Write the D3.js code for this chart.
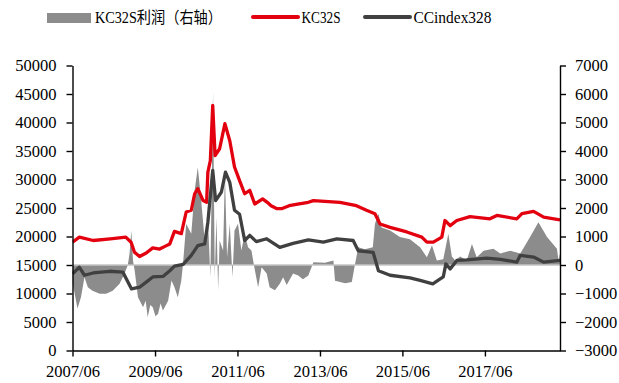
<!DOCTYPE html>
<html>
<head>
<meta charset="utf-8">
<script src="https://cdn.jsdelivr.net/npm/d3@7"></script>
<style>
  html, body { margin: 0; padding: 0; background: #fff; }
  svg { display: block; }
</style>
</head>
<body>
<svg id="chart" width="619" height="383"></svg>
<script>
// ---------- data ----------
const kcDates = ["2007-06-01","2007-08-01","2007-12-01","2008-05-01","2008-09-15","2008-11-01","2008-12-01","2009-01-15","2009-03-15","2009-05-12","2009-07-12","2009-09-10","2009-10-10","2009-11-20","2010-01-20","2010-03-04","2010-04-18","2010-05-18","2010-06-15","2010-08-01","2010-09-01","2010-09-12","2010-10-04","2010-10-25","2010-11-15","2010-12-25","2011-02-10","2011-03-25","2011-05-06","2011-06-20","2011-08-04","2011-09-18","2011-11-01","2012-01-10","2012-02-20","2012-03-25","2012-05-12","2012-07-01","2012-09-01","2012-11-15","2013-02-18","2013-04-04","2013-11-25","2014-04-20","2014-07-18","2014-10-01","2014-11-15","2015-02-12","2015-07-10","2015-11-20","2016-01-04","2016-03-01","2016-05-15","2016-06-12","2016-07-28","2016-09-25","2017-01-20","2017-07-15","2017-09-15","2018-03-10","2018-04-25","2018-08-06","2018-11-03","2019-03-28"];
const kcValues = [19000,19900,19300,19600,19900,19000,17250,16500,17100,18000,17800,18400,18700,20900,20500,24300,24600,27500,28400,26300,26000,31300,33300,43000,34200,35400,39800,36800,32200,29800,27500,28100,25700,26600,26000,25400,24900,24900,25400,25700,26000,26300,26000,25400,24600,24000,22200,21600,20800,19900,19000,19000,19900,22800,21900,22800,23500,23100,23700,23100,24000,24400,23400,22900];

const ccDates = ["2007-06-01","2007-08-01","2007-09-15","2007-12-01","2008-04-25","2008-08-20","2008-11-05","2009-01-15","2009-03-15","2009-05-12","2009-08-10","2009-10-10","2009-11-20","2010-02-05","2010-04-18","2010-06-15","2010-08-15","2010-09-12","2010-10-25","2010-11-20","2011-01-10","2011-02-15","2011-03-25","2011-05-06","2011-06-20","2011-08-04","2011-09-18","2011-11-15","2012-02-15","2012-06-10","2012-10-06","2013-02-18","2013-07-01","2013-10-28","2014-03-22","2014-05-06","2014-09-15","2014-11-01","2015-02-12","2015-08-07","2015-11-05","2016-02-25","2016-05-01","2016-05-28","2016-06-20","2016-07-28","2016-09-25","2016-12-22","2017-06-18","2017-10-15","2018-03-10","2018-04-10","2018-08-06","2018-11-03","2019-03-28"];
const ccValues = [13450,14600,13200,13600,13900,13750,10800,11100,12000,12900,13000,14000,14800,15100,16700,18400,18700,22500,31600,26300,27800,31300,29500,24600,23900,19300,20200,19100,19600,18100,18800,19400,19000,19600,19300,17500,17200,14000,13200,12750,12300,11700,12550,12900,15200,14300,15800,15900,16200,16000,15500,16700,16400,15500,15800];

const profitDates = ["2007-06-01","2007-06-20","2007-07-15","2007-08-15","2007-09-15","2007-10-15","2007-11-25","2008-01-28","2008-03-25","2008-05-22","2008-07-22","2008-09-05","2008-10-03","2008-10-18","2008-11-03","2008-11-18","2008-12-03","2009-01-01","2009-02-15","2009-03-10","2009-03-28","2009-04-20","2009-05-12","2009-06-05","2009-06-28","2009-07-20","2009-08-10","2009-09-25","2009-10-25","2009-11-20","2009-12-20","2010-01-20","2010-02-03","2010-03-04","2010-04-18","2010-05-18","2010-06-15","2010-07-15","2010-08-15","2010-09-12","2010-10-04","2010-10-28","2010-11-12","2010-11-27","2010-12-12","2010-12-25","2011-01-25","2011-02-10","2011-03-01","2011-03-25","2011-04-18","2011-05-06","2011-06-06","2011-07-06","2011-08-04","2011-09-03","2011-10-03","2011-10-25","2011-12-01","2012-01-01","2012-02-15","2012-03-12","2012-04-28","2012-06-10","2012-07-10","2012-08-10","2012-10-06","2012-11-20","2013-01-01","2013-02-18","2013-04-04","2013-07-15","2013-09-28","2013-10-12","2014-01-10","2014-03-10","2014-04-06","2014-05-06","2014-07-03","2014-09-12","2014-10-01","2014-11-01","2014-11-28","2015-02-12","2015-05-10","2015-08-07","2015-11-05","2016-01-04","2016-02-18","2016-04-01","2016-05-28","2016-07-12","2016-08-12","2016-09-10","2016-10-25","2016-12-22","2017-02-06","2017-03-20","2017-05-20","2017-08-15","2017-10-15","2018-01-12","2018-04-10","2018-07-06","2018-09-18","2018-12-03","2019-03-01","2019-03-15","2019-03-28"];
const profitValues = [-600,-1000,-1530,-1130,-430,-780,-900,-1010,-1010,-900,-660,-290,0,390,1210,150,-200,-1130,-1480,-1250,-1830,-1400,-1480,-1800,-1710,-1350,-1600,-1250,-545,-780,-1130,-545,0,1450,1100,2610,3430,2260,860,1680,-430,6100,-430,1680,-890,860,510,3200,270,1450,-430,1210,1450,510,1100,620,510,0,-780,-80,-300,-780,-890,-660,-430,-700,-300,-370,-500,-370,100,80,160,-550,-640,-600,0,620,550,620,1450,1800,1320,1210,980,900,620,270,690,160,200,1100,300,160,300,160,740,270,500,570,400,500,400,980,1500,980,570,160,400];

const xTickDates = ["2007-06-01","2009-06-01","2011-06-01","2013-06-01","2015-06-01","2017-06-01"];
const leftTicks = [0,5000,10000,15000,20000,25000,30000,35000,40000,45000,50000];
const rightTicks = [-3000,-2000,-1000,0,1000,2000,3000,4000,5000,6000,7000];
const legendLabels = ["KC32S利润（右轴）","KC32S","CCindex328"];

// ---------- setup ----------
const parse = d3.timeParse("%Y-%m-%d");
const kc = kcDates.map((d,i)=>({date:parse(d), v:kcValues[i]}));
const cc = ccDates.map((d,i)=>({date:parse(d), v:ccValues[i]}));
const pf = profitDates.map((d,i)=>({date:parse(d), v:profitValues[i]}));

const L = 72.5, R = 560, T = 65.5, B = 350.5;
const svg = d3.select("#chart");

const x = d3.scaleTime().domain([parse("2007-06-01"), parse("2019-03-28")]).range([L, R]);
const yL = d3.scaleLinear().domain([0, 50000]).range([B, T]);
const yR = d3.scaleLinear().domain([-3000, 7000]).range([B, T]);

svg.append("defs").append("clipPath").attr("id","clip")
  .append("rect").attr("x",L).attr("y",T-2).attr("width",R-L).attr("height",B-T+2);

const plot = svg.append("g").attr("clip-path","url(#clip)");

// profit area (right axis)
plot.append("path").datum(pf)
  .attr("fill","#8c8c8c")
  .attr("d", d3.area().x(d=>x(d.date)).y0(yR(0)).y1(d=>yR(d.v)));

// zero line
plot.append("line")
  .attr("x1",L).attr("x2",R).attr("y1",yR(0)).attr("y2",yR(0))
  .attr("stroke","#c4c4c4").attr("stroke-width",1.5);

// KC32S red line
plot.append("path").datum(kc)
  .attr("fill","none").attr("stroke","#e3000f").attr("stroke-width",3.3)
  .attr("stroke-linejoin","round")
  .attr("d", d3.line().x(d=>x(d.date)).y(d=>yL(d.v)));

// CCindex dark line
plot.append("path").datum(cc)
  .attr("fill","none").attr("stroke","#404040").attr("stroke-width",3.3)
  .attr("stroke-linejoin","round")
  .attr("d", d3.line().x(d=>x(d.date)).y(d=>yL(d.v)));

// ---------- axes ----------
const font = "'Liberation Serif','Times New Roman',serif";
function styleAxis(g){
  g.selectAll("path.domain").attr("stroke","#000").attr("stroke-width",1.4);
  g.selectAll(".tick line").attr("stroke","#000").attr("stroke-width",1.4);
  g.selectAll(".tick text").attr("fill","#000").style("font-family",font).style("font-size","16.5px");
}

const gL = svg.append("g").attr("transform",`translate(${L},0)`)
  .call(d3.axisLeft(yL).tickValues(leftTicks).tickSize(6).tickSizeOuter(0).tickPadding(10).tickFormat(d3.format("d")));
styleAxis(gL);

const gR = svg.append("g").attr("transform",`translate(${R},0)`)
  .call(d3.axisRight(yR).tickValues(rightTicks).tickSize(6).tickSizeOuter(0).tickPadding(9).tickFormat(d3.format("d")));
styleAxis(gR);

const gB = svg.append("g").attr("transform",`translate(0,${B})`)
  .call(d3.axisBottom(x).tickValues(xTickDates.map(parse)).tickSize(6).tickSizeOuter(0).tickPadding(9).tickFormat(d3.timeFormat("%Y/%m")));
styleAxis(gB);

// ---------- legend ----------
const lg = svg.append("g");
const lfont = "'Liberation Serif','Noto Sans CJK SC',serif";
lg.append("rect").attr("x",47).attr("y",13).attr("width",44).attr("height",10).attr("fill","#8c8c8c");
lg.append("text").attr("x",95).attr("y",23).text(legendLabels[0])
  .attr("textLength",127).attr("lengthAdjust","spacingAndGlyphs");
lg.append("line").attr("x1",253).attr("x2",298).attr("y1",17).attr("y2",17)
  .attr("stroke","#e3000f").attr("stroke-width",4).attr("stroke-linecap","round");
lg.append("text").attr("x",301.5).attr("y",23).text(legendLabels[1])
  .attr("textLength",39).attr("lengthAdjust","spacingAndGlyphs");
lg.append("line").attr("x1",365).attr("x2",410).attr("y1",17).attr("y2",17)
  .attr("stroke","#404040").attr("stroke-width",4).attr("stroke-linecap","round");
lg.append("text").attr("x",413.5).attr("y",23).text(legendLabels[2])
  .attr("textLength",78).attr("lengthAdjust","spacingAndGlyphs");
lg.selectAll("text").attr("fill","#000").style("font-family",lfont).style("font-size","16px");
</script>
</body>
</html>
